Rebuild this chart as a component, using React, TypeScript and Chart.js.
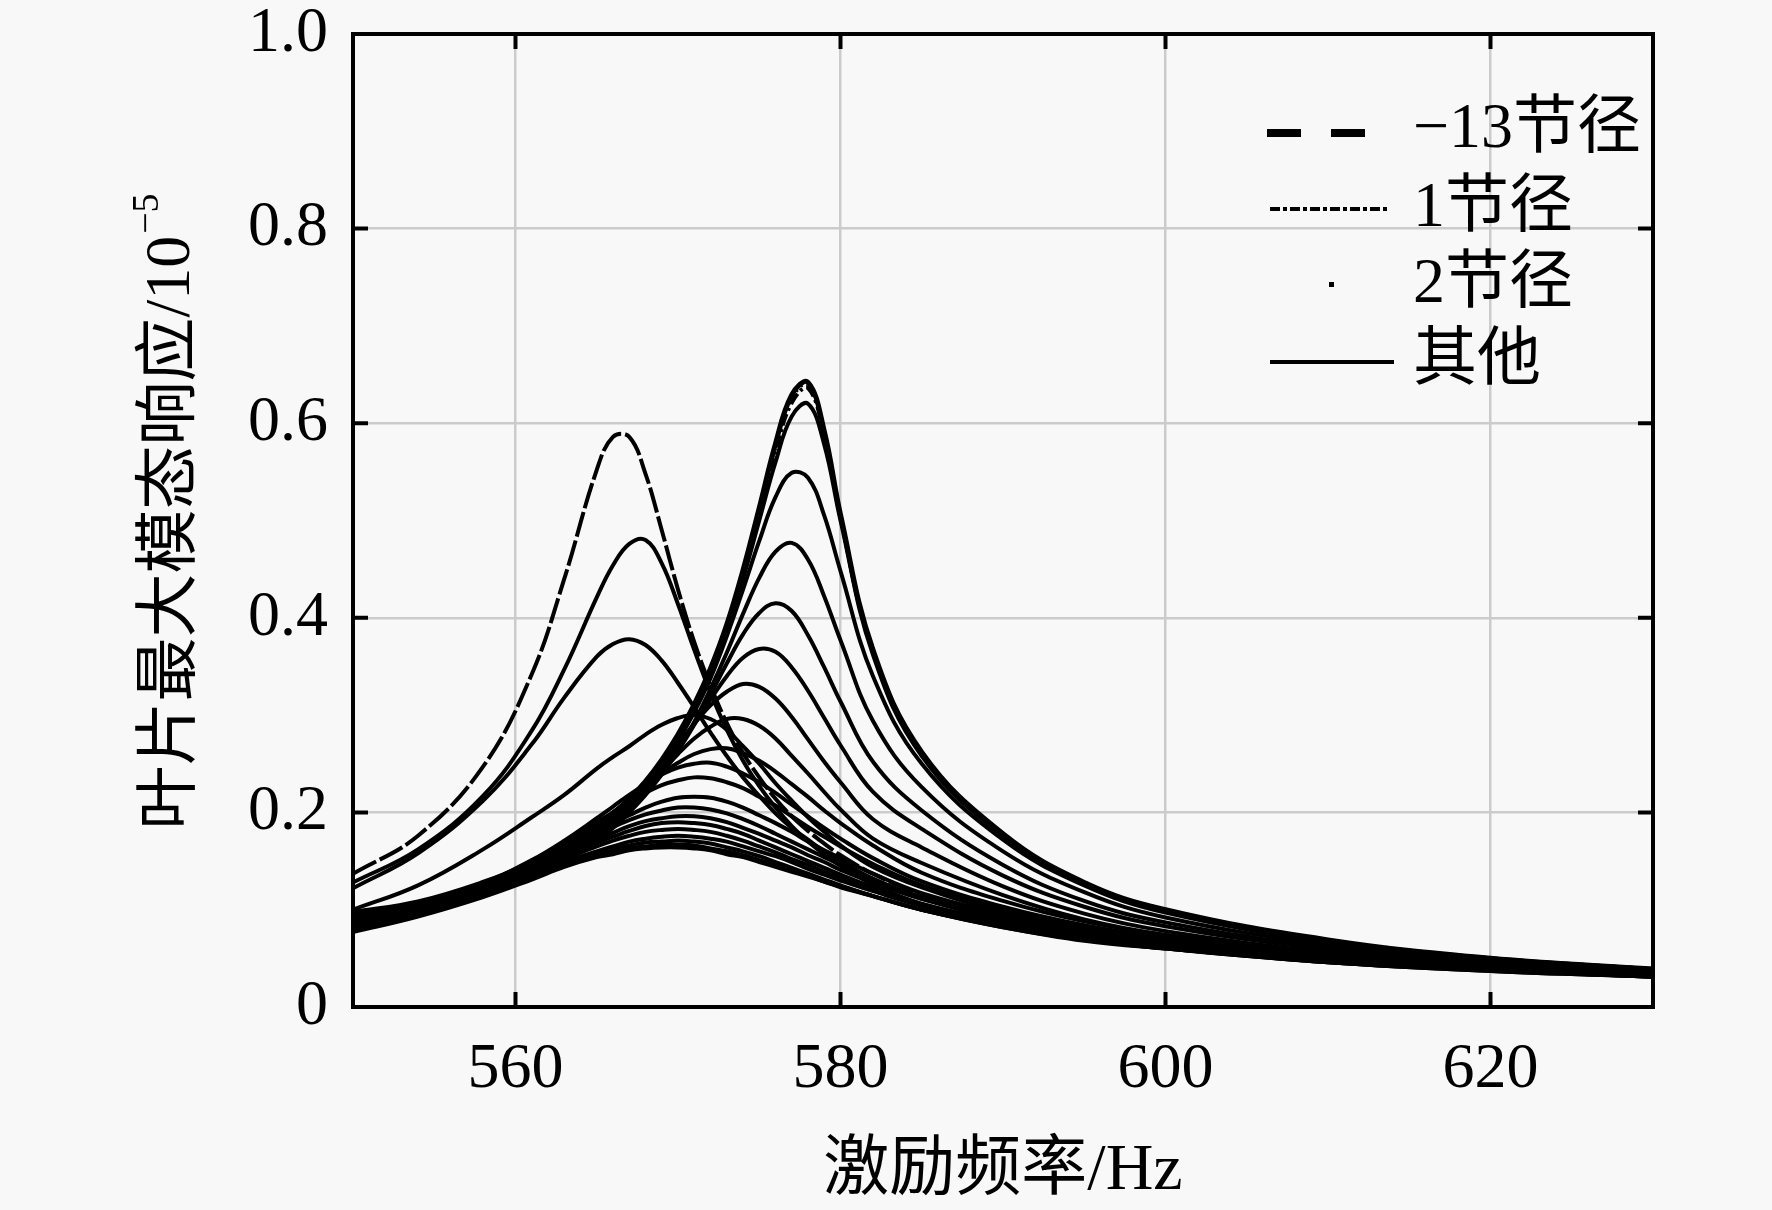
import React, { useEffect, useRef } from 'react';
import { Chart, registerables } from 'chart.js';

Chart.register(...registerables);

// excitation frequency (Hz) shared by every curve
const freqHz = [550, 554, 558, 561, 563, 565, 566, 567, 568, 569, 570, 571, 572, 573, 574, 575, 576, 577, 578, 579, 580, 582, 585, 590, 595, 600, 610, 620, 630];
const xTickValues = [560, 580, 600, 620];
const yTickValues = [0, 0.2, 0.4, 0.6, 0.8, 1.0];

// -13 nodal diameter (dashed)
const nd13 = [0.137, 0.176, 0.247, 0.342, 0.440, 0.552, 0.586, 0.586, 0.548, 0.490, 0.429, 0.375, 0.330, 0.292, 0.261, 0.236, 0.214, 0.196, 0.181, 0.168, 0.156, 0.137, 0.116, 0.092, 0.078, 0.067, 0.053, 0.043, 0.035];
// 1 nodal diameter (dash-dot), 2 nodal diameter (dotted)
const nd1 = [0.096, 0.107, 0.127, 0.147, 0.164, 0.185, 0.198, 0.213, 0.231, 0.253, 0.279, 0.310, 0.347, 0.391, 0.446, 0.509, 0.572, 0.621, 0.636, 0.588, 0.503, 0.365, 0.260, 0.177, 0.127, 0.099, 0.068, 0.050, 0.039];
const nd2 = [0.097, 0.107, 0.128, 0.148, 0.165, 0.186, 0.199, 0.214, 0.232, 0.254, 0.280, 0.311, 0.348, 0.392, 0.448, 0.511, 0.576, 0.626, 0.640, 0.590, 0.505, 0.366, 0.261, 0.178, 0.128, 0.100, 0.069, 0.050, 0.039];

// the rest
const respB = [0.128, 0.162, 0.217, 0.284, 0.347, 0.421, 0.454, 0.476, 0.480, 0.456, 0.414, 0.367, 0.323, 0.285, 0.253, 0.227, 0.205, 0.186, 0.170, 0.157, 0.145, 0.126, 0.106, 0.088, 0.074, 0.064, 0.050, 0.041, 0.034];
const respC = [0.122, 0.158, 0.212, 0.270, 0.318, 0.360, 0.373, 0.378, 0.372, 0.356, 0.333, 0.308, 0.282, 0.258, 0.236, 0.217, 0.199, 0.184, 0.172, 0.160, 0.150, 0.132, 0.112, 0.090, 0.075, 0.064, 0.050, 0.041, 0.034];
const respD = [0.097, 0.108, 0.128, 0.148, 0.165, 0.186, 0.199, 0.214, 0.232, 0.254, 0.280, 0.311, 0.348, 0.393, 0.449, 0.513, 0.579, 0.629, 0.642, 0.592, 0.506, 0.367, 0.262, 0.178, 0.128, 0.100, 0.069, 0.050, 0.039];
const respE = [0.096, 0.106, 0.126, 0.145, 0.162, 0.183, 0.196, 0.211, 0.229, 0.251, 0.277, 0.308, 0.344, 0.387, 0.440, 0.500, 0.560, 0.607, 0.620, 0.578, 0.500, 0.362, 0.258, 0.176, 0.127, 0.099, 0.068, 0.050, 0.039];
const respF = [0.093, 0.104, 0.122, 0.140, 0.157, 0.179, 0.191, 0.206, 0.225, 0.247, 0.273, 0.303, 0.338, 0.381, 0.429, 0.479, 0.524, 0.549, 0.544, 0.505, 0.448, 0.340, 0.250, 0.172, 0.125, 0.097, 0.067, 0.049, 0.038];
const respG = [0.090, 0.101, 0.119, 0.137, 0.153, 0.174, 0.186, 0.201, 0.219, 0.240, 0.265, 0.293, 0.327, 0.364, 0.404, 0.441, 0.468, 0.477, 0.460, 0.422, 0.377, 0.294, 0.226, 0.160, 0.118, 0.092, 0.064, 0.047, 0.037];
const respH = [0.088, 0.099, 0.116, 0.134, 0.151, 0.172, 0.184, 0.200, 0.218, 0.239, 0.263, 0.290, 0.321, 0.353, 0.383, 0.405, 0.415, 0.407, 0.382, 0.349, 0.314, 0.252, 0.202, 0.146, 0.109, 0.087, 0.061, 0.045, 0.036];
const respI = [0.087, 0.098, 0.116, 0.134, 0.151, 0.174, 0.188, 0.204, 0.222, 0.242, 0.266, 0.291, 0.316, 0.340, 0.359, 0.368, 0.365, 0.349, 0.325, 0.297, 0.269, 0.221, 0.183, 0.135, 0.103, 0.083, 0.059, 0.044, 0.035];
const respJ = [0.088, 0.099, 0.117, 0.136, 0.156, 0.180, 0.195, 0.211, 0.229, 0.249, 0.270, 0.291, 0.310, 0.324, 0.332, 0.329, 0.317, 0.298, 0.275, 0.252, 0.231, 0.193, 0.164, 0.124, 0.096, 0.078, 0.056, 0.043, 0.034];
const respK = [0.087, 0.098, 0.116, 0.136, 0.155, 0.179, 0.193, 0.208, 0.225, 0.242, 0.260, 0.276, 0.288, 0.296, 0.296, 0.289, 0.276, 0.258, 0.240, 0.221, 0.203, 0.173, 0.148, 0.115, 0.090, 0.074, 0.053, 0.041, 0.033];
const respL = [0.100, 0.125, 0.162, 0.195, 0.218, 0.245, 0.257, 0.268, 0.280, 0.290, 0.297, 0.300, 0.296, 0.285, 0.268, 0.250, 0.230, 0.212, 0.195, 0.180, 0.166, 0.144, 0.123, 0.097, 0.079, 0.067, 0.050, 0.039, 0.032];
const respM = [0.089, 0.103, 0.124, 0.144, 0.164, 0.187, 0.200, 0.213, 0.227, 0.240, 0.251, 0.260, 0.265, 0.266, 0.261, 0.253, 0.242, 0.229, 0.216, 0.202, 0.189, 0.166, 0.138, 0.109, 0.088, 0.074, 0.055, 0.043, 0.035];
const respN = [0.091, 0.106, 0.127, 0.151, 0.171, 0.194, 0.206, 0.218, 0.229, 0.239, 0.246, 0.250, 0.251, 0.247, 0.240, 0.231, 0.220, 0.208, 0.196, 0.184, 0.173, 0.153, 0.129, 0.103, 0.084, 0.071, 0.053, 0.042, 0.034];
const respO = [0.091, 0.106, 0.127, 0.150, 0.169, 0.190, 0.200, 0.211, 0.220, 0.228, 0.233, 0.236, 0.235, 0.231, 0.225, 0.216, 0.207, 0.196, 0.185, 0.175, 0.165, 0.147, 0.125, 0.100, 0.082, 0.069, 0.052, 0.041, 0.034];
const respP = [0.088, 0.103, 0.123, 0.145, 0.161, 0.180, 0.189, 0.197, 0.205, 0.211, 0.215, 0.216, 0.215, 0.211, 0.205, 0.197, 0.189, 0.180, 0.170, 0.161, 0.153, 0.137, 0.117, 0.095, 0.078, 0.066, 0.050, 0.040, 0.033];
const respQ = [0.088, 0.102, 0.123, 0.144, 0.160, 0.177, 0.185, 0.192, 0.198, 0.202, 0.205, 0.205, 0.203, 0.199, 0.193, 0.186, 0.178, 0.170, 0.162, 0.154, 0.146, 0.131, 0.113, 0.092, 0.076, 0.065, 0.049, 0.039, 0.032];
const respR = [0.086, 0.102, 0.123, 0.143, 0.158, 0.172, 0.179, 0.186, 0.191, 0.194, 0.196, 0.196, 0.194, 0.190, 0.184, 0.178, 0.171, 0.164, 0.156, 0.149, 0.141, 0.128, 0.111, 0.090, 0.075, 0.064, 0.048, 0.039, 0.032];
const respS = [0.084, 0.100, 0.120, 0.140, 0.154, 0.169, 0.175, 0.181, 0.186, 0.189, 0.190, 0.189, 0.187, 0.183, 0.178, 0.171, 0.164, 0.157, 0.150, 0.143, 0.136, 0.123, 0.106, 0.087, 0.072, 0.062, 0.047, 0.038, 0.031];
const respT = [0.085, 0.100, 0.121, 0.139, 0.152, 0.165, 0.171, 0.176, 0.180, 0.182, 0.183, 0.182, 0.180, 0.176, 0.171, 0.165, 0.159, 0.152, 0.146, 0.139, 0.133, 0.121, 0.105, 0.085, 0.071, 0.061, 0.046, 0.038, 0.031];
const respU = [0.082, 0.098, 0.117, 0.136, 0.149, 0.160, 0.165, 0.170, 0.173, 0.175, 0.176, 0.175, 0.173, 0.170, 0.165, 0.160, 0.155, 0.149, 0.142, 0.136, 0.130, 0.119, 0.104, 0.085, 0.071, 0.061, 0.047, 0.038, 0.032];
const respV = [0.080, 0.095, 0.115, 0.133, 0.146, 0.157, 0.162, 0.166, 0.169, 0.170, 0.171, 0.170, 0.168, 0.164, 0.160, 0.155, 0.149, 0.143, 0.137, 0.131, 0.125, 0.114, 0.100, 0.082, 0.068, 0.060, 0.046, 0.037, 0.031];
const respW = [0.079, 0.094, 0.114, 0.132, 0.145, 0.155, 0.159, 0.163, 0.165, 0.167, 0.167, 0.166, 0.163, 0.160, 0.156, 0.151, 0.146, 0.140, 0.135, 0.129, 0.124, 0.114, 0.100, 0.082, 0.069, 0.060, 0.046, 0.037, 0.031];
const respX = [0.077, 0.093, 0.113, 0.131, 0.144, 0.154, 0.157, 0.161, 0.163, 0.164, 0.164, 0.163, 0.161, 0.157, 0.154, 0.149, 0.144, 0.139, 0.134, 0.129, 0.123, 0.114, 0.100, 0.083, 0.070, 0.060, 0.047, 0.038, 0.032];

const otherCurves = [respX, respW, respV, respU, respT, respS, respR, respQ, respP, respO, respN, respM, respL, respK, respJ, respI, respH, respG, respF, respE, respD, respC, respB];

const legendLabels = ['−13节径', '1节径', '2节径', '其他'];
const xTitle = '激励频率/Hz';
const yTitle = '叶片最大模态响应/10';
const yTitleSup = '−5';

const SERIF = "'Liberation Serif', 'Times New Roman', 'Noto Sans CJK SC', serif";

const toPoints = (vals: number[]) => vals.map((v, i) => ({ x: freqHz[i], y: v }));

const paperPlugin = {
  id: 'paper',
  beforeDraw(chart: any) {
    const { ctx, width, height } = chart;
    ctx.save();
    ctx.fillStyle = '#f8f8f8';
    ctx.fillRect(0, 0, width, height);
    ctx.restore();
  },
};

const framePlugin = {
  id: 'frame',
  afterDatasetsDraw(chart: any) {
    const { ctx, chartArea, scales } = chart;
    const { left, right, top, bottom } = chartArea;
    const tick = 15;
    ctx.save();
    ctx.strokeStyle = '#000';
    ctx.lineWidth = 4;
    ctx.beginPath();
    xTickValues.forEach((v) => {
      const px = scales.x.getPixelForValue(v);
      ctx.moveTo(px, bottom);
      ctx.lineTo(px, bottom - tick);
      ctx.moveTo(px, top);
      ctx.lineTo(px, top + tick);
    });
    yTickValues.forEach((v) => {
      const py = scales.y.getPixelForValue(v);
      ctx.moveTo(left, py);
      ctx.lineTo(left + tick, py);
      ctx.moveTo(right, py);
      ctx.lineTo(right - tick, py);
    });
    ctx.stroke();
    ctx.strokeRect(left, top, right - left, bottom - top);
    ctx.restore();
  },
};

const textPlugin = {
  id: 'texts',
  afterDraw(chart: any) {
    const { ctx, chartArea } = chart;
    const { left, right, top, bottom } = chartArea;
    ctx.save();
    ctx.fillStyle = '#000';

    // x title
    ctx.font = `66px ${SERIF}`;
    ctx.textAlign = 'center';
    ctx.textBaseline = 'middle';
    ctx.fillText(xTitle, (left + right) / 2, 1172);

    // y title, rotated, with superscript
    ctx.save();
    ctx.translate(172, (top + bottom) / 2 - 8);
    ctx.rotate(-Math.PI / 2);
    ctx.font = `64px ${SERIF}`;
    const mainW = ctx.measureText(yTitle).width;
    ctx.font = `38px ${SERIF}`;
    const supW = ctx.measureText(yTitleSup).width;
    const start = -(mainW + supW) / 2;
    ctx.textAlign = 'left';
    ctx.font = `64px ${SERIF}`;
    ctx.fillText(yTitle, start, 0);
    ctx.font = `38px ${SERIF}`;
    ctx.fillText(yTitleSup, start + mainW + 2, -24);
    ctx.restore();

    // legend
    const x0 = right - 386;
    const xText = right - 240;
    const rows = [top + 96, top + 175, top + 251, top + 328];
    ctx.strokeStyle = '#000';
    ctx.lineCap = 'butt';

    ctx.lineWidth = 8;
    ctx.setLineDash([34, 30]);
    ctx.beginPath();
    ctx.moveTo(x0, rows[0] + 3);
    ctx.lineTo(x0 + 100, rows[0] + 3);
    ctx.stroke();

    ctx.lineWidth = 4;
    ctx.setLineDash([10, 3, 4, 3]);
    ctx.beginPath();
    ctx.moveTo(x0 + 3, rows[1]);
    ctx.lineTo(x0 + 123, rows[1]);
    ctx.stroke();

    ctx.setLineDash([]);
    ctx.fillRect(x0 + 62, rows[2] - 3, 5, 5);

    ctx.lineWidth = 4;
    ctx.beginPath();
    ctx.moveTo(x0 + 3, rows[3]);
    ctx.lineTo(x0 + 127, rows[3]);
    ctx.stroke();

    ctx.font = `64px ${SERIF}`;
    ctx.textAlign = 'left';
    ctx.textBaseline = 'middle';
    legendLabels.forEach((label, i) => {
      ctx.fillText(label, xText, rows[i]);
    });
    ctx.restore();
  },
};

const ResponseChart = () => {
  const chartRef = useRef<HTMLCanvasElement>(null);

  useEffect(() => {
    document.body.style.margin = '0';
    if (!chartRef.current) return;

    const others = otherCurves.map((vals) => ({
      label: '其他',
      data: toPoints(vals),
      borderColor: '#000',
      borderWidth: vals === respD ? 5 : 4,
    }));

    const chart = new Chart(chartRef.current!, {
      type: 'line',
      data: {
        datasets: [
          ...others,
          { label: '2节径', data: toPoints(nd2), borderColor: '#000', borderWidth: 4, borderDash: [2, 5] },
          { label: '1节径', data: toPoints(nd1), borderColor: '#000', borderWidth: 4, borderDash: [12, 4, 3, 4] },
          { label: '−13节径', data: toPoints(nd13), borderColor: '#000', borderWidth: 4, borderDash: [26, 4] },
        ],
      },
      options: {
        responsive: true,
        maintainAspectRatio: false,
        animation: false,
        layout: { padding: { top: 34, right: 119, left: 0, bottom: 0 } },
        elements: {
          point: { radius: 0 },
          line: { tension: 0.4, fill: false },
        },
        plugins: {
          legend: { display: false },
          tooltip: { enabled: false },
        },
        scales: {
          x: {
            type: 'linear',
            min: 550,
            max: 630,
            afterFit: (s: any) => {
              s.height = 203;
              s.paddingLeft = 0;
              s.paddingRight = 0;
            },
            afterBuildTicks: (s: any) => { s.ticks = xTickValues.map((v) => ({ value: v })); },
            grid: { color: '#cbcbcb', lineWidth: 2.5, drawTicks: false },
            border: { display: false },
            ticks: {
              color: '#000',
              padding: 31,
              maxRotation: 0,
              font: { family: SERIF, size: 64, lineHeight: 1 },
            },
          },
          y: {
            type: 'linear',
            min: 0,
            max: 1,
            afterFit: (s: any) => {
              s.width = 353;
              s.paddingTop = 0;
              s.paddingBottom = 0;
            },
            afterBuildTicks: (s: any) => { s.ticks = yTickValues.map((v) => ({ value: v })); },
            grid: { color: '#cbcbcb', lineWidth: 2.5, drawTicks: false },
            border: { display: false },
            ticks: {
              color: '#000',
              padding: 25,
              font: { family: SERIF, size: 64, lineHeight: 1 },
              callback: (v: any) => (Number(v) === 0 ? '0' : Number(v).toFixed(1)),
            },
          },
        },
      },
      plugins: [paperPlugin, framePlugin, textPlugin],
    });

    return () => {
      chart.destroy();
    };
  }, []);

  return (
    <div style={{ position: 'relative', width: 1772, height: 1210 }}>
      <canvas ref={chartRef} />
    </div>
  );
};

export default function App() {
  return <ResponseChart />;
}
